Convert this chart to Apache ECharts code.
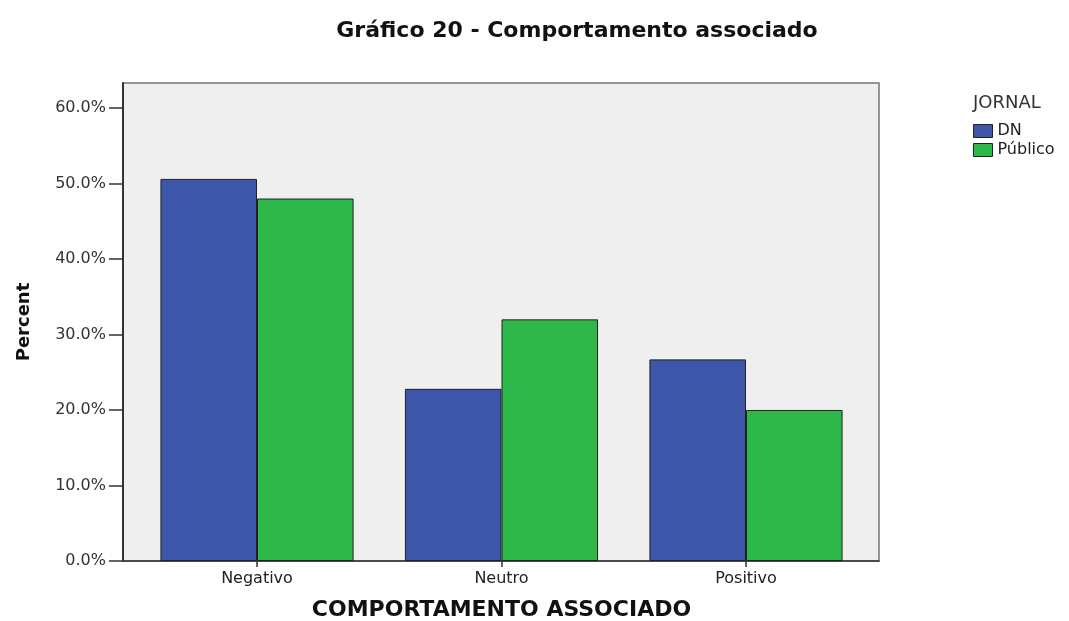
<!DOCTYPE html>
<html><head><meta charset="utf-8">
<script src="https://cdn.jsdelivr.net/npm/echarts@6/dist/echarts.min.js"></script>
<style>html,body{margin:0;padding:0;background:#fff}#c{width:1069px;height:621px}</style>
</head><body><div id="c"></div>
<script>
var categories = ['Negativo', 'Neutro', 'Positivo'];
var seriesNames = ['DN', 'Público'];
var dnValues = [50.6, 22.8, 26.7];
var publicoValues = [48.0, 32.0, 20.0];
var yTicks = [0, 10, 20, 30, 40, 50, 60];

var chart = echarts.init(document.getElementById('c'));
var F = '"DejaVu Sans", Verdana, sans-serif';
chart.setOption({
  animation: false,
  backgroundColor: '#fff',
  title: [
    {text: 'Gráfico 20 - Comportamento associado', left: 572, top: 15, textAlign: 'center',
     textStyle: {fontFamily: F, fontSize: 22, fontWeight: 'bold', color: '#111'}},
    {text: 'JORNAL', left: 968, top: 89,
     textStyle: {fontFamily: F, fontSize: 18, fontWeight: 'normal', color: '#333'}}
  ],
  legend: {
    orient: 'vertical', left: 973, top: 123, padding: 0, itemWidth: 19, itemHeight: 13, itemGap: 3,
    icon: 'rect', data: seriesNames,
    textStyle: {fontFamily: F, fontSize: 16, color: '#222'},
    itemStyle: {borderColor: '#222', borderWidth: 1}
  },
  grid: [
    {left: 123, right: 190, top: 83, bottom: 60, show: true, backgroundColor: '#efefef',
     borderColor: '#777', borderWidth: 1.5, outerBoundsMode: 'none', containLabel: false},
    {left: 134.75, right: 200.75, top: 83, bottom: 60, outerBoundsMode: 'none', containLabel: false}
  ],
  xAxis: [
    {gridIndex: 0, type: 'value', min: 0, max: 1,
     axisLine: {show: true, lineStyle: {color: '#333', width: 1.5}},
     axisTick: {show: false}, axisLabel: {show: false}, splitLine: {show: false}},
    {gridIndex: 1, type: 'category', data: categories,
     axisLine: {show: false},
     axisTick: {show: true, alignWithLabel: true, length: 6, lineStyle: {color: '#333', width: 1.5}},
     axisLabel: {fontFamily: F, fontSize: 16, color: '#222', margin: 10},
     name: 'COMPORTAMENTO ASSOCIADO', nameLocation: 'middle', nameGap: 38,
     nameTextStyle: {fontFamily: F, fontSize: 22, fontWeight: 'bold', color: '#111'}}
  ],
  yAxis: [
    {gridIndex: 0, type: 'value', show: false, min: 0, max: 1},
    {gridIndex: 1, type: 'value', min: 0, max: 63.3, offset: 11.75,
     axisLine: {show: true, lineStyle: {color: '#333', width: 2}},
     axisTick: {show: true, length: 14, customValues: yTicks, lineStyle: {color: '#333', width: 1.5}},
     axisLabel: {fontFamily: F, fontSize: 16, color: '#333', margin: 17, customValues: yTicks,
       formatter: function (v) { return v.toFixed(1) + '%'; }},
     splitLine: {show: false},
     name: 'Percent', nameLocation: 'middle', nameGap: 90, nameRotate: 90,
     nameTextStyle: {fontFamily: F, fontSize: 18, fontWeight: 'bold', color: '#111'}}
  ],
  series: [
    {name: 'DN', type: 'bar', xAxisIndex: 1, yAxisIndex: 1, data: dnValues,
     barGap: '0%', barCategoryGap: '21%',
     itemStyle: {color: '#3d56a9', borderColor: '#222', borderWidth: 1}},
    {name: 'Público', type: 'bar', xAxisIndex: 1, yAxisIndex: 1, data: publicoValues,
     barGap: '0%', barCategoryGap: '21%',
     itemStyle: {color: '#2fb84a', borderColor: '#222', borderWidth: 1}}
  ]
});
</script></body></html>
